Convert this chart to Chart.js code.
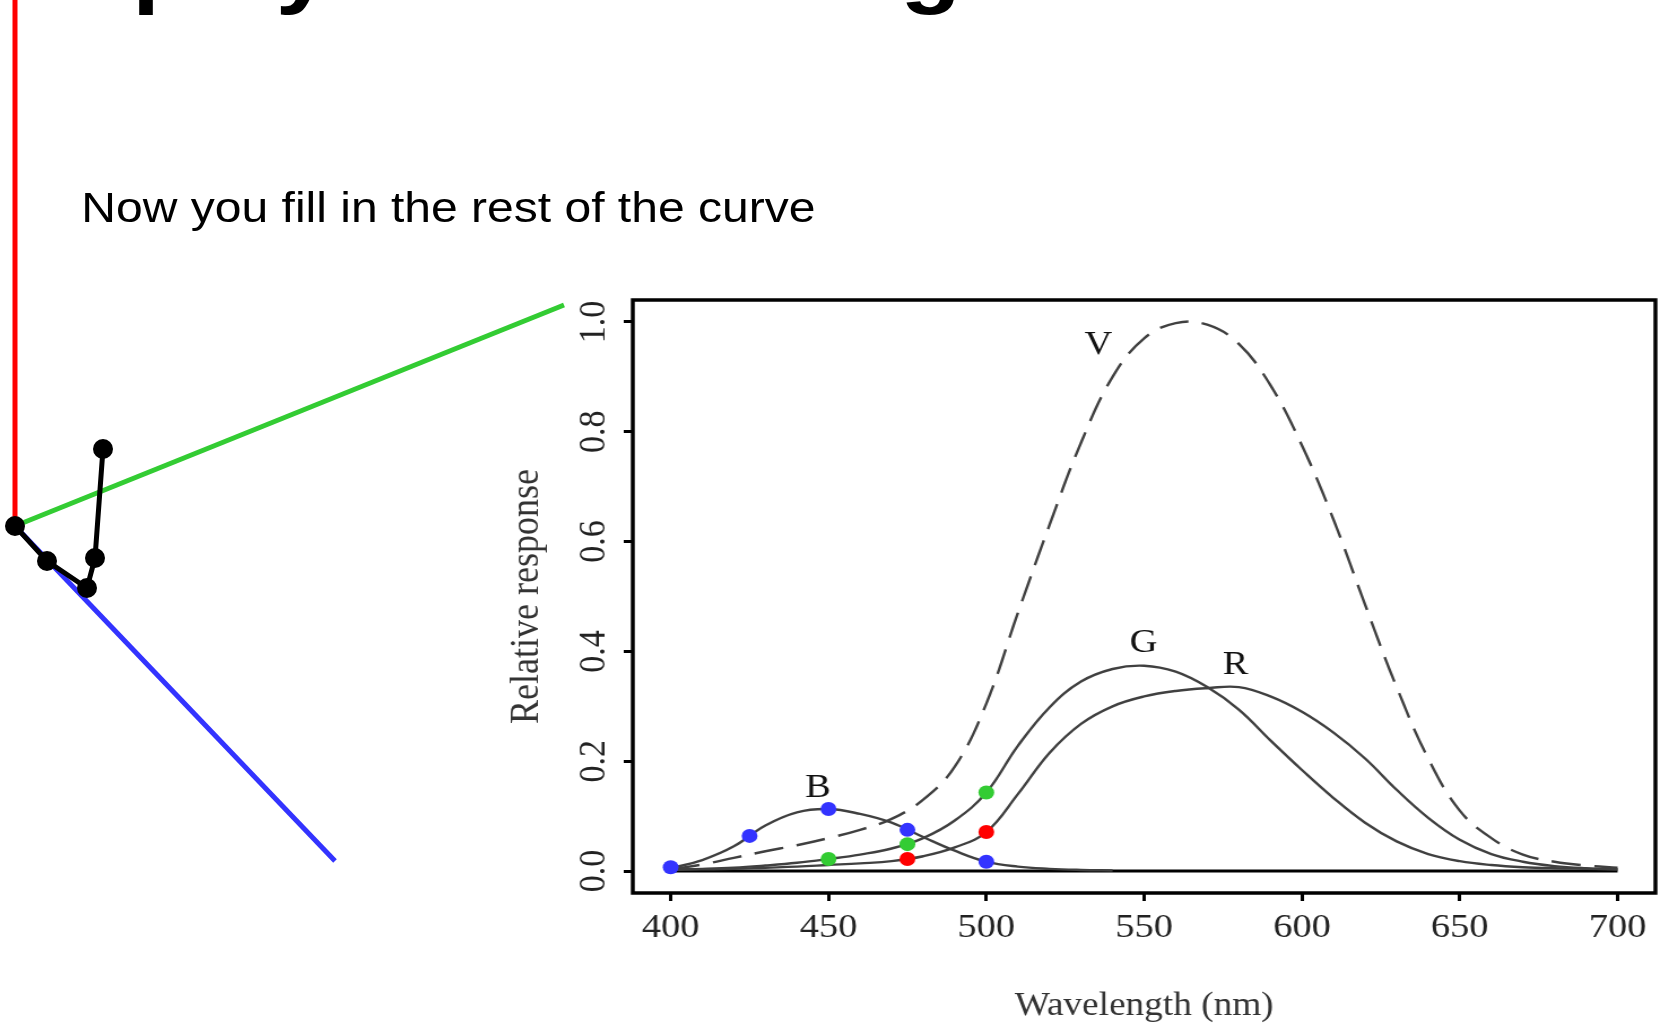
<!DOCTYPE html>
<html>
<head>
<meta charset="utf-8">
<script src="https://cdn.jsdelivr.net/npm/chart.js@4.4.1/dist/chart.umd.min.js"></script>
<style>
  html, body { margin: 0; padding: 0; background: #fff; overflow: hidden; width: 1661px; height: 1023px; }
  /* the slide is stretched sideways, so everything on it is too */
  #stage { position: absolute; left: 0; top: 0; width: 1470px; height: 1023px; transform: scaleX(1.13); transform-origin: 0 0; }
  #title { position: absolute; left: -20px; top: -77px; font: bold 88px/88px "Liberation Sans", Arial, sans-serif; white-space: nowrap; color: #000; }
  #note { position: absolute; left: 72px; top: 187px; font: 42.5px/42.5px "Liberation Sans", Arial, sans-serif; white-space: nowrap; color: #000; }
  #chart { position: absolute; left: 420px; top: 280px; width: 1050px; height: 743px; }
  #axes3d { position: absolute; left: 0; top: 0; width: 600px; height: 900px; }
</style>
</head>
<body>
<div id="stage">
  <div id="title">Display for matching</div>
  <div id="note">Now you fill in the rest of the curve</div>
  <canvas id="chart" width="1050" height="743"></canvas>
</div>
<canvas id="axes3d" width="600" height="900"></canvas>
<script>
// axis ticks
const xTicks = [400, 450, 500, 550, 600, 650, 700];
const yTicks = [0, 0.2, 0.4, 0.6, 0.8, 1.0];

// B cone response
const bNm  = [400, 410, 420, 430, 440, 450, 460, 470, 480, 490, 500, 510, 520, 530, 540];
const bVal = [0.005, 0.02, 0.045, 0.083, 0.107, 0.113, 0.104, 0.088, 0.062, 0.037, 0.017, 0.008, 0.004, 0.002, 0.001];

// G cone response
const gNm  = [400, 410, 420, 430, 440, 450, 460, 470, 480, 490, 500, 510, 520, 530, 540, 550, 560, 570, 580, 590, 600, 610, 620, 630, 640, 650, 660, 670, 680, 690, 700];
const gVal = [0.003, 0.004, 0.006, 0.01, 0.015, 0.022, 0.03, 0.041, 0.06, 0.092, 0.143, 0.228, 0.298, 0.345, 0.368, 0.374, 0.363, 0.335, 0.294, 0.238, 0.184, 0.133, 0.088, 0.054, 0.031, 0.018, 0.011, 0.007, 0.005, 0.004, 0.003];

// R cone response
const rNm  = [400, 410, 420, 430, 440, 450, 460, 470, 480, 490, 500, 510, 520, 530, 540, 550, 560, 570, 580, 590, 600, 610, 620, 630, 640, 650, 660, 670, 680, 690, 700];
const rVal = [0.002, 0.003, 0.004, 0.006, 0.008, 0.011, 0.014, 0.018, 0.027, 0.043, 0.071, 0.14, 0.215, 0.268, 0.3, 0.318, 0.328, 0.333, 0.335, 0.318, 0.29, 0.252, 0.205, 0.148, 0.097, 0.057, 0.031, 0.017, 0.009, 0.005, 0.003];

// V (luminosity), dashed
const vNm  = [400, 410, 420, 430, 440, 450, 460, 470, 480, 490, 500, 510, 520, 530, 540, 550, 560, 570, 580, 590, 600, 610, 620, 630, 640, 650, 660, 670, 680, 690, 700];
const vVal = [0.003, 0.012, 0.024, 0.036, 0.047, 0.06, 0.075, 0.095, 0.13, 0.19, 0.305, 0.47, 0.63, 0.78, 0.9, 0.97, 0.998, 0.995, 0.96, 0.885, 0.775, 0.64, 0.485, 0.335, 0.205, 0.11, 0.06, 0.03, 0.017, 0.01, 0.006];

// zero line
const baseNm  = [400, 700];
const baseVal = [0, 0];

// sampled points
const blueDotNm  = [400, 425, 450, 475, 500];
const blueDotVal = [0.007, 0.064, 0.113, 0.075, 0.017];
const greenDotNm  = [450, 475, 500];
const greenDotVal = [0.022, 0.049, 0.143];
const redDotNm  = [475, 500];
const redDotVal = [0.022, 0.071];

// curve names
const curveNames = ['V', 'G', 'R', 'B'];
const curveNameNm = [535.5, 549.8, 578.9, 446.7];
const curveNameVal = [0.957, 0.415, 0.375, 0.151];

// left sketch: cone axes and the locus so far (sketch units, origin at the corner)
const redAxisX = [0, 0],   redAxisY = [0, 526];
const greenAxisX = [0, 549], greenAxisY = [0, 221];
const blueAxisX = [0, 320],  blueAxisY = [0, -335];
const locusX = [0, 32, 72, 80, 88];
const locusY = [0, -35, -62, -32, 77];

function pts(xs, ys) {
    return xs.map((x, i) => ({x: x, y: ys[i]}));
}

const serif = '"Liberation Serif", "Times New Roman", serif';

const framePlugin = {
    id: 'frame',
    afterDraw(chart) {
        const ctx = chart.ctx;
        const a = chart.chartArea;
        ctx.save();
        ctx.strokeStyle = '#000';
        ctx.lineWidth = 3.5;
        ctx.strokeRect(a.left, a.top, a.right - a.left, a.bottom - a.top);
        ctx.restore();
    }
};

const namesPlugin = {
    id: 'curveNames',
    afterDatasetsDraw(chart) {
        const ctx = chart.ctx;
        const sx = chart.scales.x, sy = chart.scales.y;
        ctx.save();
        ctx.fillStyle = '#111';
        ctx.font = '34px ' + serif;
        ctx.textAlign = 'center';
        ctx.textBaseline = 'middle';
        curveNames.forEach((n, i) => {
            ctx.fillText(n, sx.getPixelForValue(curveNameNm[i]), sy.getPixelForValue(curveNameVal[i]));
        });
        ctx.restore();
    }
};

function curve(xs, ys, dash) {
    return {
        data: pts(xs, ys),
        showLine: true,
        borderColor: '#404040',
        borderWidth: 2.4,
        borderDash: dash || [],
        pointRadius: 0,
        tension: 0.4
    };
}

function dots(xs, ys, color) {
    return {
        data: pts(xs, ys),
        showLine: false,
        pointRadius: 7,
        backgroundColor: color,
        borderWidth: 0
    };
}

new Chart(document.getElementById('chart'), {
    type: 'scatter',
    data: {
        datasets: [
            dots(blueDotNm, blueDotVal, '#3333ff'),
            dots(greenDotNm, greenDotVal, '#33cc33'),
            dots(redDotNm, redDotVal, '#ff0000'),
            curve(bNm, bVal),
            curve(gNm, gVal),
            curve(rNm, rVal),
            curve(vNm, vVal, [26, 12]),
            {data: pts(baseNm, baseVal), showLine: true, borderColor: '#000', borderWidth: 3, pointRadius: 0}
        ]
    },
    options: {
        responsive: false,
        animation: false,
        events: [],
        layout: {autoPadding: false, padding: {top: 20, right: 5, left: 0, bottom: 0}},
        plugins: {legend: {display: false}, tooltip: {enabled: false}},
        scales: {
            x: {
                type: 'linear',
                min: 388,
                max: 712,
                afterBuildTicks: s => { s.ticks = xTicks.map(v => ({value: v})); },
                afterFit: s => { s.height = 130; s.paddingLeft = 0; s.paddingRight = 0; },
                border: {display: false},
                grid: {display: true, drawOnChartArea: false, drawTicks: true, tickLength: 8, color: '#000', lineWidth: 3},
                ticks: {color: '#222', font: {family: serif, size: 34}, padding: 7, maxRotation: 0},
                title: {display: true, text: 'Wavelength (nm)', color: '#333', font: {family: serif, size: 33, lineHeight: 1}, padding: {top: 0, bottom: 0}}
            },
            y: {
                type: 'linear',
                min: -0.04,
                max: 1.04,
                afterBuildTicks: s => { s.ticks = yTicks.map(v => ({value: v})); },
                afterFit: s => { s.width = 140; s.paddingTop = 0; s.paddingBottom = 0; },
                border: {display: false},
                grid: {display: true, drawOnChartArea: false, drawTicks: true, tickLength: 8, color: '#000', lineWidth: 3},
                ticks: {
                    color: '#222',
                    font: {family: serif, size: 34},
                    minRotation: 90,
                    maxRotation: 90,
                    crossAlign: 'center',
                    padding: 5,
                    callback: v => v.toFixed(1)
                },
                title: {display: true, text: 'Relative response', color: '#333', font: {family: serif, size: 36, lineHeight: 1}, padding: {top: 29, bottom: 0}}
            }
        }
    },
    plugins: [framePlugin, namesPlugin]
});

new Chart(document.getElementById('axes3d'), {
    type: 'scatter',
    data: {
        datasets: [
            {data: pts(locusX, locusY), showLine: true, borderColor: '#000', backgroundColor: '#000', borderWidth: 5, pointRadius: 7.5, clip: false},
            {data: pts(redAxisX, redAxisY), showLine: true, borderColor: '#ff0000', borderWidth: 5, pointRadius: 0, clip: false},
            {data: pts(greenAxisX, greenAxisY), showLine: true, borderColor: '#33cc33', borderWidth: 5, pointRadius: 0, clip: false},
            {data: pts(blueAxisX, blueAxisY), showLine: true, borderColor: '#3333ff', borderWidth: 5, pointRadius: 0, clip: false}
        ]
    },
    options: {
        responsive: false,
        animation: false,
        events: [],
        layout: {autoPadding: false, padding: 0},
        plugins: {legend: {display: false}, tooltip: {enabled: false}},
        scales: {
            x: {type: 'linear', display: false, min: -15, max: 585},
            y: {type: 'linear', display: false, min: -374, max: 526}
        }
    }
});
</script>
</body>
</html>
